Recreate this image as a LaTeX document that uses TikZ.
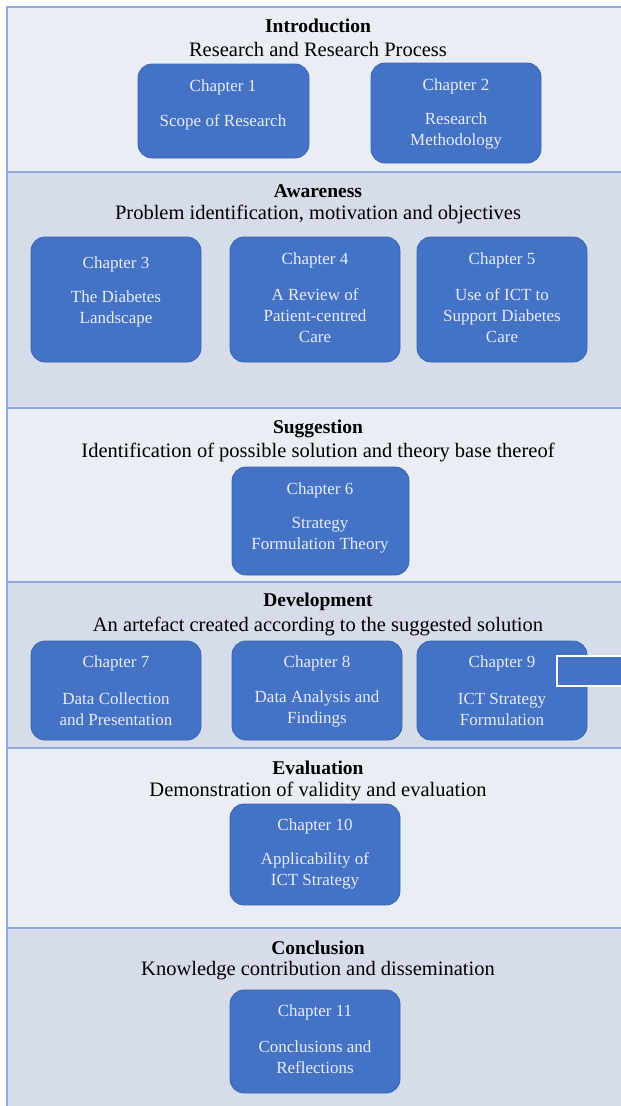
\documentclass[tikz,border=0pt]{standalone}
\usepackage{fontspec}
\setmainfont{Liberation Serif}
\definecolor{bandlight}{HTML}{E9EDF4}
\definecolor{banddark}{HTML}{D6DCEA}
\definecolor{bandline}{HTML}{8EA9DB}
\definecolor{boxfill}{HTML}{4472C4}
\definecolor{boxline}{HTML}{3A64B0}
\definecolor{boxtext}{HTML}{E6ECF7}
\tikzset{
  band/.style={draw=bandline, line width=1.5pt},
  chap/.style={draw=boxline, fill=boxfill, rounded corners=14pt, line width=0.8pt},
  ctext/.style={text=boxtext, font=\fontsize{17}{21}\selectfont, align=center, inner sep=0pt},
  ttl/.style={font=\bfseries\fontsize{19.5}{21}\selectfont, inner sep=0pt},
  sub/.style={font=\fontsize{20.5}{22}\selectfont, inner sep=0pt},
}
\begin{document}
\begin{tikzpicture}[x=1pt, y=-1pt]
\useasboundingbox (0,0) rectangle (621,1106);
% bands
\fill[white] (0,0) rectangle (621,1106);
\draw[band, fill=bandlight] (7,7) rectangle (640,172);
\draw[band, fill=banddark] (7,172) rectangle (640,408);
\draw[band, fill=bandlight] (7,408) rectangle (640,582);
\draw[band, fill=banddark] (7,582) rectangle (640,748);
\draw[band, fill=bandlight] (7,748) rectangle (640,928);
\draw[band, fill=banddark] (7,928) rectangle (640,1120);
% titles
\node[ttl] (t1) at (318,26) {Introduction};
\node[sub] (s1) at (318,49) {Research and Research Process};
\node[ttl] (t2) at (318,191) {Awareness};
\node[sub] (s2) at (318,214) {Problem identification, motivation and objectives};
\node[ttl] (t3) at (318,429) {Suggestion};
\node[sub] (s3) at (318,452) {Identification of possible solution and theory base thereof};
\node[ttl] (t4) at (318,602) {Development};
\node[sub] (s4) at (318,626) {An artefact created according to the suggested solution};
\node[ttl] (t5) at (318,768) {Evaluation};
\node[sub] (s5) at (318,791) {Demonstration of validity and evaluation};
\node[ttl] (t6) at (318,948) {Conclusion};
\node[sub] (s6) at (318,971) {Knowledge contribution and dissemination};
% chapter boxes
\draw[chap] (138,64) rectangle (309,158);
\node[ctext] (c1a) at (223,87) {Chapter 1};
\node[ctext] (c1b) at (223,122) {Scope of Research};
\draw[chap] (371,63) rectangle (541,163);
\node[ctext] (c2a) at (456,86) {Chapter 2};
\node[ctext] (c2b) at (456,131) {Research\\Methodology};
\draw[chap] (31,237) rectangle (201,362);
\node[ctext] (c3a) at (116,264) {Chapter 3};
\node[ctext] (c3b) at (116,309) {The Diabetes\\Landscape};
\draw[chap] (230,237) rectangle (400,362);
\node[ctext] (c4a) at (315,260) {Chapter 4};
\node[ctext] (c4b) at (315,316) {A Review of\\Patient-centred\\Care};
\draw[chap] (417,237) rectangle (587,362);
\node[ctext] (c5a) at (502,260) {Chapter 5};
\node[ctext] (c5b) at (502,316) {Use of ICT to\\Support Diabetes\\Care};
\draw[chap] (232,467) rectangle (409,575);
\node[ctext] (c6a) at (320,490) {Chapter 6};
\node[ctext] (c6b) at (320,535) {Strategy\\Formulation Theory};
\draw[chap] (31,641) rectangle (201,740);
\node[ctext] (c7a) at (116,663) {Chapter 7};
\node[ctext] (c7b) at (116,709) {Data Collection\\and Presentation};
\draw[chap] (232,641) rectangle (402,740);
\node[ctext] (c8a) at (317,663) {Chapter 8};
\node[ctext] (c8b) at (317,709) {Data Analysis and\\Findings};
\draw[chap] (417,641) rectangle (587,740);
\node[ctext] (c9a) at (502,663) {Chapter 9};
\node[ctext] (c9b) at (502,709) {ICT Strategy\\Formulation};
\draw[chap] (230,804) rectangle (400,905);
\node[ctext] (c10a) at (315,826) {Chapter 10};
\node[ctext] (c10b) at (315,871) {Applicability of\\ICT Strategy};
\draw[chap] (230,990) rectangle (400,1093);
\node[ctext] (c11a) at (315,1012) {Chapter 11};
\node[ctext] (c11b) at (315,1057) {Conclusions and\\Reflections};
% stray rectangle
\draw[draw=white, fill=boxfill, line width=2.5pt] (557,656) rectangle (640,686);
\end{tikzpicture}
\end{document}
